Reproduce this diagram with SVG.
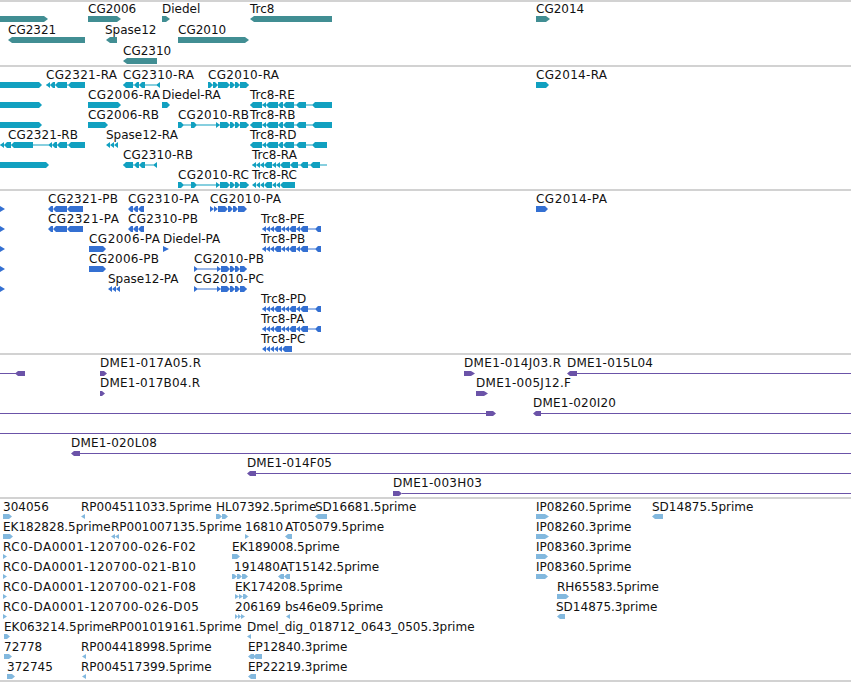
<svg xmlns="http://www.w3.org/2000/svg" width="851" height="682" viewBox="0 0 851 682">
<style>
.g{fill:#418e93}.t{fill:#11a0c0}.p{fill:#3470d2}.c{fill:#6b53a8}.e{fill:#82b8de}.sep{fill:#c4c4c4}
text{font-family:"DejaVu Sans","Liberation Sans",sans-serif;font-size:12px;fill:#111}
</style>
<defs>
<path id="trcL" d="M0 2.5H82V3.5H0Z M3 0H12V6H3L0 3Z M12 3L16 0V6Z M19 0H28V6H19L16 3Z M31 0H33V6H31L28 3Z M36 0H44V6H36L33 3Z M49 0H56V6H49L46 3Z M65 0H82V6H65L62 3Z"/>
<path id="trcD" d="M0 2.5H77V3.5H0Z M3 0H12V6H3L0 3Z M12 3L16 0V6Z M19 0H28V6H19L16 3Z M31 0H33V6H31L28 3Z M36 0H44V6H36L33 3Z M49 0H56V6H49L46 3Z M65 0H77V6H65L62 3Z"/>
<path id="trcA" d="M0 2.5H75V3.5H0Z M0 3L4 0V6Z M4 3L8 0V6Z M8 3L12 0V6Z M15 0H20V6H15L12 3Z M20 3L24 0V6Z M24 3L28 0V6Z M31 0H38V6H31L28 3Z M41 0H46V6H41L38 3Z M51 0H56V6H51L48 3Z M61 0H68V6H61L58 3Z"/>
<path id="trcC" d="M0 3L4 0V6Z M4 3L8 0V6Z M8 3L12 0V6Z M15 0H20V6H15L12 3Z M20 3L24 0V6Z M24 3L28 0V6Z M31 0H43V6H31L28 3Z"/>
<path id="trcP" d="M0 2.5H59V3.5H0Z M0 3L4 0V6Z M4 3L8 0V6Z M8 3L12 0V6Z M15 0H19V6H15L12 3Z M19 3L23 0V6Z M23 3L27 0V6Z M30 0H34V6H30L27 3Z M34 3L38 0V6Z M41 0H46V6H41L38 3Z M56 0H59V6H56L53 3Z"/>
<path id="trcPC" d="M0 3L4 0V6Z M4 3L8 0V6Z M8 3L12 0V6Z M12 3L16 0V6Z M16 3L20 0V6Z M23 0H30V6H23L20 3Z"/>
<path id="c10RA" d="M0 2.5H41V3.5H0Z M0 0H2L5 3L2 6H0Z M5 0H7L10 3L7 6H5Z M10 0H19L22 3L19 6H10Z M22 0H24L27 3L24 6H22Z M27 0H29L32 3L29 6H27Z M32 0H38L41 3L38 6H32Z"/>
<path id="c10RB" d="M0 2.5H71V3.5H0Z M0 0H3L6 3L3 6H0Z M13 0H16L19 3L16 6H13Z M38 0L42 3L38 6Z M42 0H49L52 3L49 6H42Z M52 0H54L57 3L54 6H52Z M57 0H59L62 3L59 6H57Z M62 0H68L71 3L68 6H62Z"/>
<path id="c10PA" d="M0 0L4 3L0 6Z M4 0L8 3L4 6Z M8 0H15L18 3L15 6H8Z M18 0H20L23 3L20 6H18Z M23 0H25L28 3L25 6H23Z M28 0H34L37 3L34 6H28Z"/>
<path id="c10PB" d="M0 2.5H53V3.5H0Z M0 0L4 3L0 6Z M23 0L27 3L23 6Z M27 0H33L36 3L33 6H27Z M36 0H38L41 3L38 6H36Z M41 0H43L46 3L43 6H41Z M46 0H50L53 3L50 6H46Z"/>
<path id="c21RA" d="M0 2.5H39V3.5H0Z M0 3L4 0V6Z M7 0H9V6H7L4 3Z M12 0H21V6H12L9 3Z M25 0H39V6H25L22 3Z"/>
<path id="c21RB" d="M0 2.5H85V3.5H0Z M0 3L4 0V6Z M7 0H11V6H7L4 3Z M14 0H33V6H14L11 3Z M48 3L52 0V6Z M55 0H57V6H55L52 3Z M60 0H67V6H60L57 3Z M71 0H85V6H71L68 3Z"/>
<path id="c21P" d="M3 0H5V6H3L0 3Z M8 0H19V6H8L5 3Z M22 0H35V6H22L19 3Z"/>
<path id="c23RA" d="M0 2.5H37V3.5H0Z M3 0H10V6H3L0 3Z M14 0H16V6H14L11 3Z M19 0H22V6H19L16 3Z M33 3L37 0V6Z"/>
<path id="c23RB" d="M0 2.5H34V3.5H0Z M3 0H10V6H3L0 3Z M14 0H16V6H14L11 3Z M19 0H22V6H19L16 3Z M30 3L34 0V6Z"/>
<path id="c23P" d="M3 0H5V6H3L0 3Z M8 0H10V6H8L5 3Z M13 0H16V6H13L10 3Z"/>
<path id="spR" d="M0 3L4 0V6Z M4 3L8 0V6Z M8 3L12 0V6Z"/>
</defs>

<g id="separators">
<rect class="sep" x="0" y="0.25" width="851" height="1.5"/>
<rect class="sep" x="0" y="65.25" width="851" height="1.5"/>
<rect class="sep" x="0" y="189.25" width="851" height="1.5"/>
<rect class="sep" x="0" y="353.25" width="851" height="1.5"/>
<rect class="sep" x="0" y="497.25" width="851" height="1.5"/>
<rect class="sep" x="0" y="680.25" width="851" height="1.5"/>
</g>

<g id="genes" class="g">
<g id="gene-left"><path d="M0 16H44L48 19L44 22H0Z"/></g>
<g id="CG2006"><text x="88" y="13">CG2006</text><path d="M88 16H117L121 19L117 22H88Z"/></g>
<g id="Diedel"><text x="162" y="13">Diedel</text><path d="M162 16H166L170 19L166 22H162Z"/></g>
<g id="Trc8"><text x="250" y="13">Trc8</text><path d="M254 16H332V22H254L250 19Z"/></g>
<g id="CG2014"><text x="536" y="13">CG2014</text><path d="M536 16H546L550 19L546 22H536Z"/></g>
<g id="CG2321"><text x="8" y="34">CG2321</text><path d="M12 37H85V43H12L8 40Z"/></g>
<g id="Spase12"><text x="105" y="34">Spase12</text><path d="M110 37H117V43H110L106 40Z"/></g>
<g id="CG2010"><text x="178" y="34">CG2010</text><path d="M178 37H245L249 40L245 43H178Z"/></g>
<g id="CG2310"><text x="123" y="55">CG2310</text><path d="M127 58H157V64H127L123 61Z"/></g>
</g>

<g id="transcripts" class="t">
<g id="tx-left-1"><path d="M0 82H39L42 85L39 88H0Z"/></g>
<g id="CG2321-RA"><text x="46" y="79" textLength="71">CG2321-RA</text><use href="#c21RA" x="46" y="82"/></g>
<g id="CG2310-RA"><text x="123" y="79" textLength="71">CG2310-RA</text><use href="#c23RA" x="123" y="82"/></g>
<g id="CG2010-RA"><text x="208" y="79" textLength="71">CG2010-RA</text><use href="#c10RA" x="208" y="82"/></g>
<g id="CG2014-RA"><text x="536" y="79" textLength="71">CG2014-RA</text><path d="M536 82H546L549 85L546 88H536Z"/></g>
<g id="tx-left-2"><path d="M0 102H39L42 105L39 108H0Z"/></g>
<g id="CG2006-RA"><text x="88" y="99" textLength="72">CG2006-RA</text><path d="M88 102H118L121 105L118 108H88Z"/></g>
<g id="Diedel-RA"><text x="162" y="99">Diedel-RA</text><path d="M162 102H167L170 105L167 108H162Z"/></g>
<g id="Trc8-RE"><text x="250" y="99">Trc8-RE</text><use href="#trcL" x="250" y="102"/></g>
<g id="tx-left-3"><path d="M0 122H39L42 125L39 128H0Z"/></g>
<g id="CG2006-RB"><text x="88" y="119" textLength="71">CG2006-RB</text><path d="M88 122H105L108 125L105 128H88Z"/></g>
<g id="CG2010-RB"><text x="178" y="119" textLength="71">CG2010-RB</text><use href="#c10RB" x="178" y="122"/></g>
<g id="Trc8-RB"><text x="250" y="119">Trc8-RB</text><use href="#trcL" x="250" y="122"/></g>
<g id="CG2321-RB"><text x="8" y="139" textLength="70">CG2321-RB</text><use href="#c21RB" x="0" y="142"/></g>
<g id="Spase12-RA"><text x="106" y="139">Spase12-RA</text><use href="#spR" x="106" y="142"/></g>
<g id="Trc8-RD"><text x="250" y="139">Trc8-RD</text><use href="#trcD" x="250" y="142"/></g>
<g id="tx-left-5"><path d="M0 162H46L49 165L46 168H0Z"/></g>
<g id="CG2310-RB"><text x="123" y="159" textLength="70">CG2310-RB</text><use href="#c23RB" x="123" y="162"/></g>
<g id="Trc8-RA"><text x="252" y="159">Trc8-RA</text><use href="#trcA" x="252" y="162"/></g>
<g id="CG2010-RC"><text x="178" y="179" textLength="71">CG2010-RC</text><use href="#c10RB" x="178" y="182"/></g>
<g id="Trc8-RC"><text x="252" y="179">Trc8-RC</text><use href="#trcC" x="252" y="182"/></g>
</g>

<g id="proteins" class="p">
<g id="pr-left"><path d="M0 206L5 209L0 212Z M0 226L5 229L0 232Z M0 246L5 249L0 252Z M0 266L5 269L0 272Z M0 286L5 289L0 292Z"/></g>
<g id="CG2321-PB"><text x="48" y="203" textLength="70">CG2321-PB</text><use href="#c21P" x="48" y="206"/></g>
<g id="CG2310-PA"><text x="128" y="203" textLength="71">CG2310-PA</text><use href="#c23P" x="128" y="206"/></g>
<g id="CG2010-PA"><text x="210" y="203" textLength="71">CG2010-PA</text><use href="#c10PA" x="210" y="206"/></g>
<g id="CG2014-PA"><text x="536" y="203" textLength="71">CG2014-PA</text><path d="M536 206H545L548 209L545 212H536Z"/></g>
<g id="CG2321-PA"><text x="48" y="223" textLength="71">CG2321-PA</text><use href="#c21P" x="48" y="226"/></g>
<g id="CG2310-PB"><text x="128" y="223" textLength="70">CG2310-PB</text><use href="#c23P" x="128" y="226"/></g>
<g id="Trc8-PE"><text x="261" y="223">Trc8-PE</text><use href="#trcP" x="262" y="226"/></g>
<g id="CG2006-PA"><text x="89" y="243" textLength="71">CG2006-PA</text><path d="M89 246H103L106 249L103 252H89Z"/></g>
<g id="Diedel-PA"><text x="163" y="243">Diedel-PA</text><path d="M163 246L169 249L163 252Z"/></g>
<g id="Trc8-PB"><text x="261" y="243">Trc8-PB</text><use href="#trcP" x="262" y="246"/></g>
<g id="CG2006-PB"><text x="89" y="263" textLength="70">CG2006-PB</text><path d="M89 266H103L106 269L103 272H89Z"/></g>
<g id="CG2010-PB"><text x="194" y="263" textLength="70">CG2010-PB</text><use href="#c10PB" x="194" y="266"/></g>
<g id="Spase12-PA"><text x="108" y="283">Spase12-PA</text><use href="#spR" x="108" y="286"/></g>
<g id="CG2010-PC"><text x="194" y="283" textLength="70">CG2010-PC</text><use href="#c10PB" x="194" y="286"/></g>
<g id="Trc8-PD"><text x="261" y="303">Trc8-PD</text><use href="#trcP" x="262" y="306"/></g>
<g id="Trc8-PA"><text x="261" y="323">Trc8-PA</text><use href="#trcP" x="262" y="326"/></g>
<g id="Trc8-PC"><text x="261" y="343">Trc8-PC</text><use href="#trcPC" x="262" y="346"/></g>
</g>

<g id="clones" class="c">
<g id="clone-left"><rect x="0" y="373" width="17" height="1"/><path d="M18 371H25V376H18L15 373.5Z"/></g>
<g id="DME1-017A05.R"><text x="100" y="367" textLength="101">DME1-017A05.R</text><path d="M100 371H104L107 373.5L104 376H100Z"/></g>
<g id="DME1-014J03.R"><text x="464" y="367" textLength="97">DME1-014J03.R</text><path d="M464 371H471L475 373.5L471 376H464Z"/></g>
<g id="DME1-015L04"><text x="567" y="367" textLength="86">DME1-015L04</text><path d="M570 371H577V376H570L567 373.5Z"/><rect x="577" y="373" width="274" height="1"/></g>
<g id="DME1-017B04.R"><text x="100" y="387" textLength="100">DME1-017B04.R</text><path d="M100 391H102L105 393.5L102 396H100Z"/></g>
<g id="DME1-005J12.F"><text x="476" y="387" textLength="95">DME1-005J12.F</text><path d="M476 391H484L488 393.5L484 396H476Z"/></g>
<g id="clone-row3-left"><rect x="0" y="413" width="487" height="1"/><path d="M486 411H493L496 413.5L493 416H486Z"/></g>
<g id="DME1-020I20"><text x="533" y="407" textLength="83">DME1-020I20</text><path d="M536 411H541V416H536L533 413.5Z"/><rect x="541" y="413" width="310" height="1"/></g>
<g id="clone-row4"><rect x="0" y="433" width="851" height="1"/></g>
<g id="DME1-020L08"><text x="71" y="447" textLength="86">DME1-020L08</text><path d="M74 451H80V456H74L71 453.5Z"/><rect x="80" y="453" width="771" height="1"/></g>
<g id="DME1-014F05"><text x="247" y="467" textLength="85">DME1-014F05</text><path d="M250 471H256V476H250L247 473.5Z"/><rect x="256" y="473" width="595" height="1"/></g>
<g id="DME1-003H03"><text x="393" y="487" textLength="89">DME1-003H03</text><path d="M393 491H399L402 493.5L399 496H393Z"/><rect x="402" y="493" width="449" height="1"/></g>
</g>

<g id="ests" class="e">
<g id="e304056"><text x="3" y="511">304056</text><path d="M3 514H9L12 516.5L9 519H3Z"/></g>
<g id="RP004511033.5prime"><text x="81" y="511">RP004511033.5prime</text><path d="M81 516.5L85 514V519Z"/></g>
<g id="HL07392.5prime"><text x="216" y="511">HL07392.5prime</text><path d="M216 514H219L222 516.5L219 519H216Z M222 514H225L228 516.5L225 519H222Z"/></g>
<g id="SD16681.5prime"><text x="315" y="511">SD16681.5prime</text><path d="M318 514H327V519H318L315 516.5Z"/></g>
<g id="IP08260.5prime"><text x="536" y="511">IP08260.5prime</text><path d="M536 514H545L549 516.5L545 519H536Z"/></g>
<g id="SD14875.5prime"><text x="652" y="511">SD14875.5prime</text><path d="M655 514H663V519H655L652 516.5Z"/></g>

<g id="EK182828.5prime"><text x="3" y="531">EK182828.5prime</text><path d="M3 534H10L13 536.5L10 539H3Z"/></g>
<g id="RP001007135.5prime"><text x="111" y="531">RP001007135.5prime</text><path d="M111 536.5L115 534V539Z M115 536.5L119 534V539Z"/></g>
<g id="e16810"><text x="245" y="531">16810</text><path d="M245 534L249 536.5L245 539Z"/></g>
<g id="AT05079.5prime"><text x="285" y="531">AT05079.5prime</text><path d="M288 534H292V539H288L285 536.5Z"/></g>
<g id="IP08260.3prime"><text x="536" y="531">IP08260.3prime</text><path d="M536 534H545L549 536.5L545 539H536Z"/></g>

<g id="RC0-DA0001-120700-026-F02"><text x="3" y="551" textLength="193">RC0-DA0001-120700-026-F02</text><path d="M3 554L7 556.5L3 559Z"/></g>
<g id="EK189008.5prime"><text x="232" y="551">EK189008.5prime</text><path d="M232 554H237L240 556.5L237 559H232Z"/></g>
<g id="IP08360.3prime"><text x="536" y="551">IP08360.3prime</text><path d="M536 554H545L548 556.5L545 559H536Z"/></g>

<g id="RC0-DA0001-120700-021-B10"><text x="3" y="571" textLength="193">RC0-DA0001-120700-021-B10</text><path d="M3 574L7 576.5L3 579Z"/></g>
<g id="e191480"><text x="234" y="571">191480</text><path d="M232 574H234L237 576.5L234 579H232Z M237 574H239L242 576.5L239 579H237Z M242 574H245L248 576.5L245 579H242Z"/></g>
<g id="AT15142.5prime"><text x="280" y="571">AT15142.5prime</text><path d="M281 574H284V579H281L278 576.5Z M287 574H290V579H287L284 576.5Z"/></g>
<g id="IP08360.5prime"><text x="536" y="571">IP08360.5prime</text><path d="M536 574H545L548 576.5L545 579H536Z"/></g>

<g id="RC0-DA0001-120700-021-F08"><text x="3" y="591" textLength="193">RC0-DA0001-120700-021-F08</text><path d="M3 594L7 596.5L3 599Z"/></g>
<g id="EK174208.5prime"><text x="235" y="591">EK174208.5prime</text><path d="M235 594L239 596.5L235 599Z M239 594L243 596.5L239 599Z M243 594H245L248 596.5L245 599H243Z"/></g>
<g id="RH65583.5prime"><text x="557" y="591">RH65583.5prime</text><path d="M557 594H566L569 596.5L566 599H557Z"/></g>

<g id="RC0-DA0001-120700-026-D05"><text x="3" y="611" textLength="196">RC0-DA0001-120700-026-D05</text><path d="M3 614L7 616.5L3 619Z"/></g>
<g id="e206169"><text x="235" y="611">206169</text><path d="M235 614L238 616.5L235 619Z M238 614L241 616.5L238 619Z M241 614L245 616.5L241 619Z"/></g>
<g id="bs46e09.5prime"><text x="285" y="611">bs46e09.5prime</text><path d="M286 616.5L290 614V619Z"/></g>
<g id="SD14875.3prime"><text x="556" y="611">SD14875.3prime</text><path d="M560 614H565V619H560L557 616.5Z"/></g>

<g id="EK063214.5prime"><text x="4" y="631">EK063214.5prime</text><path d="M4 634H7L10 636.5L7 639H4Z"/></g>
<g id="RP001019161.5prime"><text x="111" y="631">RP001019161.5prime</text></g>
<g id="Dmel_dig_018712_0643_0505.3prime"><text x="247" y="631">Dmel_dig_018712_0643_0505.3prime</text><path d="M247 636.5L251 634V639Z"/></g>

<g id="e72778"><text x="4" y="651">72778</text><path d="M4 654H9L12 656.5L9 659H4Z"/></g>
<g id="RP004418998.5prime"><text x="81" y="651">RP004418998.5prime</text><path d="M82 656.5L86 654V659Z"/></g>
<g id="EP12840.3prime"><text x="248" y="651">EP12840.3prime</text><path d="M251 654H254V659H251L248 656.5Z M256 654H262V659H256L253 656.5Z"/></g>

<g id="e372745"><text x="7" y="671">372745</text><path d="M7 674H12L15 676.5L12 679H7Z"/></g>
<g id="RP004517399.5prime"><text x="81" y="671">RP004517399.5prime</text><path d="M82 676.5L86 674V679Z"/></g>
<g id="EP22219.3prime"><text x="248" y="671">EP22219.3prime</text><path d="M251 674H256V679H251L248 676.5Z"/></g>
</g>
</svg>
